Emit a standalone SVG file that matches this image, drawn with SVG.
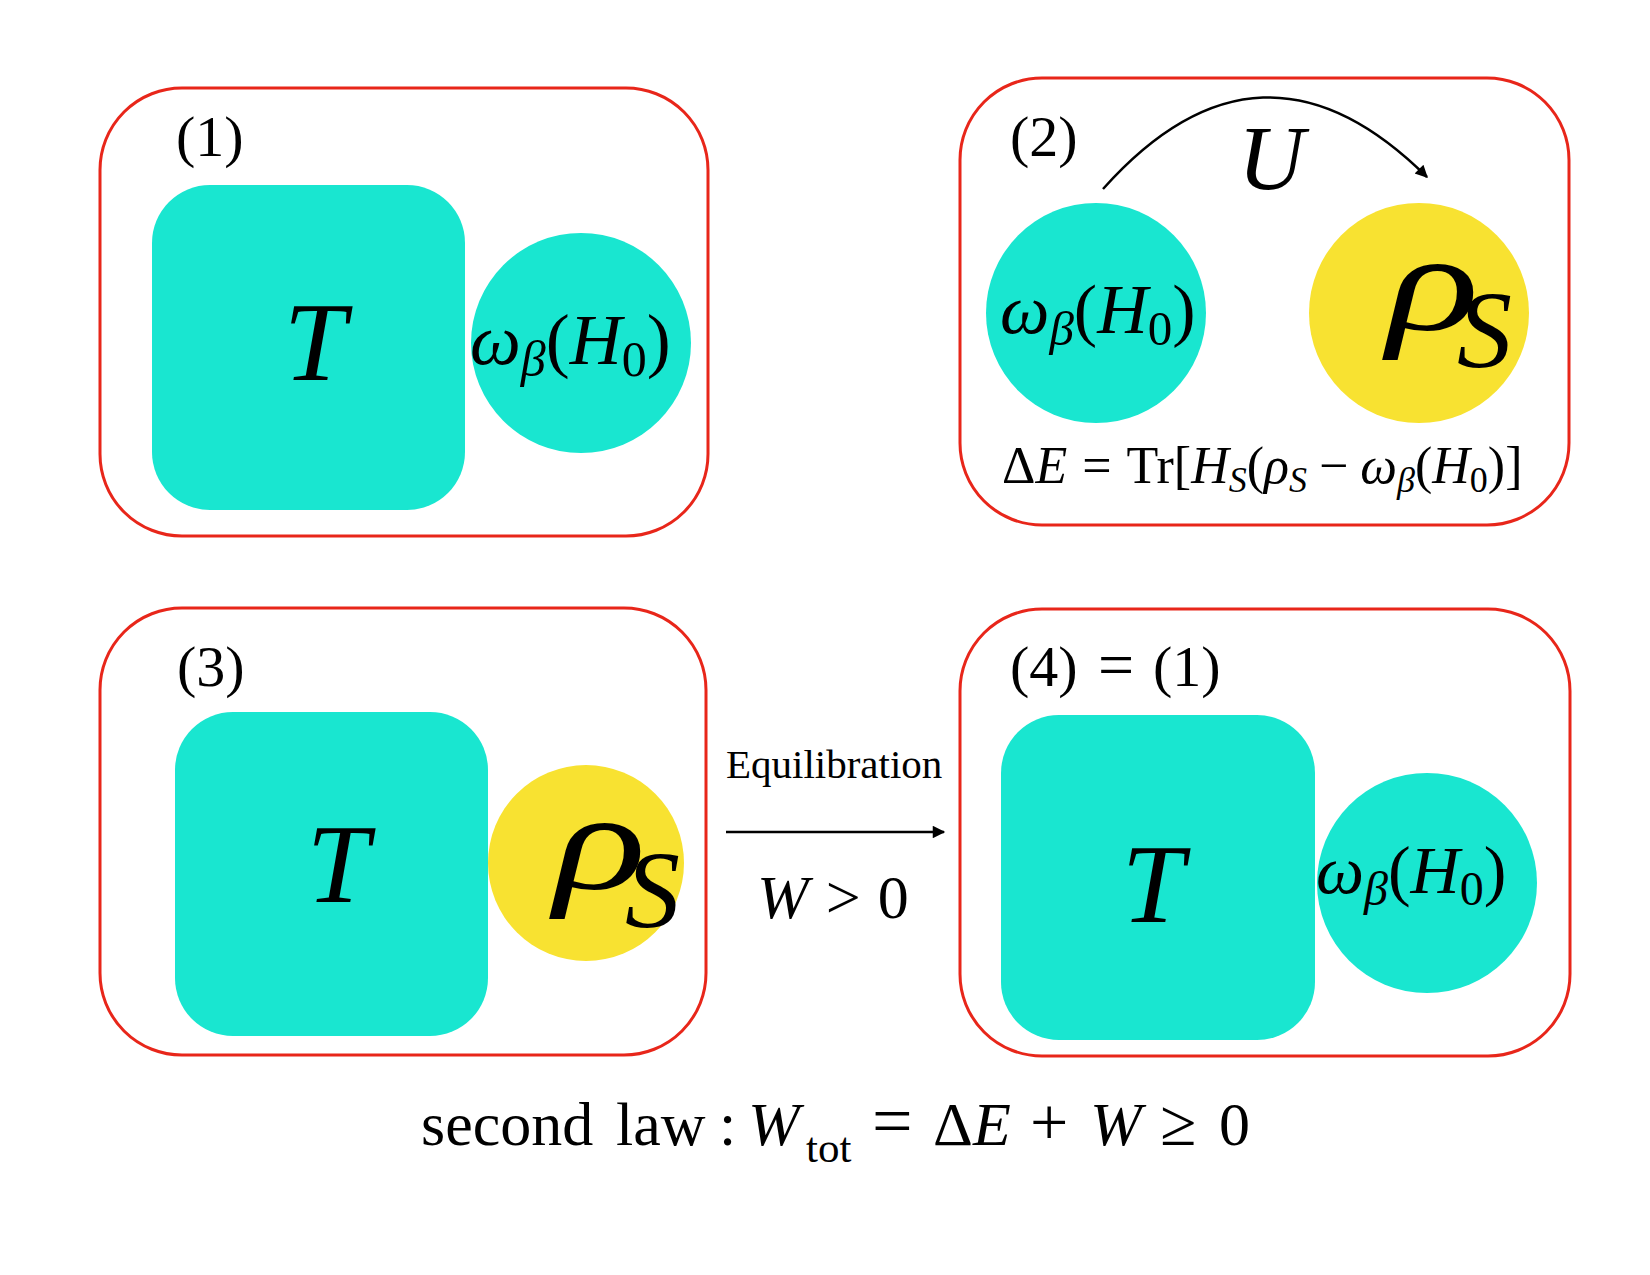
<svg xmlns="http://www.w3.org/2000/svg" width="1650" height="1275" viewBox="0 0 1650 1275">
<defs>
<marker id="ah" viewBox="0 0 10 10" refX="9" refY="5" markerWidth="6" markerHeight="5" orient="auto">
<path d="M0,0 L10,5 L0,10 z" fill="#000"/>
</marker>
</defs>
<style>
.frame{fill:none;stroke:#e8261a;stroke-width:3}
.teal{fill:#19e6d0}
.yel{fill:#f8e231}
text{font-family:"Liberation Serif","Times New Roman",serif;fill:#000}
.it{font-style:italic}
.lbl{font-size:58px}
.big{font-size:112px;font-style:italic}
.conn{fill:none;stroke:#000;stroke-width:2.5}
</style>
<rect width="1650" height="1275" fill="#fff"/>

<g id="panel1">
<rect class="frame" x="100" y="88" width="608" height="448" rx="82"/>
<text class="lbl" x="176" y="156">(1)</text>
<g id="p1-bath">
<rect class="teal" x="152" y="185" width="313" height="325" rx="58"/>
<text class="big" x="315" y="380" text-anchor="middle">T</text>
</g>
<g id="p1-system">
<circle class="teal" cx="581" cy="343" r="110"/>
<text x="470" y="364" font-size="72"><tspan class="it">ω</tspan><tspan class="it" font-size="50" dy="12">β</tspan><tspan dy="-12">(</tspan><tspan class="it">H</tspan><tspan font-size="50" dy="12">0</tspan><tspan dy="-12">)</tspan></text>
</g>
</g>

<g id="panel2">
<rect class="frame" x="960" y="78" width="609" height="447" rx="82"/>
<text class="lbl" x="1010" y="156">(2)</text>
<g id="p2-thermal">
<circle class="teal" cx="1096" cy="313" r="110"/>
<text x="1000" y="333" font-size="70"><tspan class="it">ω</tspan><tspan class="it" font-size="49" dy="12">β</tspan><tspan dy="-12">(</tspan><tspan class="it">H</tspan><tspan font-size="49" dy="12">0</tspan><tspan dy="-12">)</tspan></text>
</g>
<g id="p2-rho">
<circle class="yel" cx="1419" cy="313" r="110"/>
<text class="it" x="1387" y="330" font-size="140"><tspan textLength="92" lengthAdjust="spacingAndGlyphs">ρ</tspan><tspan x="1457" y="367" font-size="110">S</tspan></text>
</g>
<text class="it" x="1238" y="189" font-size="92">U</text>
<text x="1002" y="483" font-size="52"><tspan>Δ</tspan><tspan class="it">E</tspan><tspan dx="15">=</tspan><tspan dx="15">Tr[</tspan><tspan class="it">H</tspan><tspan class="it" font-size="36" dy="9">S</tspan><tspan dy="-9">(</tspan><tspan class="it">ρ</tspan><tspan class="it" font-size="36" dy="9">S</tspan><tspan dy="-9" dx="12">−</tspan><tspan class="it" dx="12">ω</tspan><tspan class="it" font-size="36" dy="9">β</tspan><tspan dy="-9">(</tspan><tspan class="it">H</tspan><tspan font-size="36" dy="9">0</tspan><tspan dy="-9">)]</tspan></text>
</g>

<g id="panel3">
<rect class="frame" x="100" y="608" width="606" height="447" rx="82"/>
<text class="lbl" x="177" y="686">(3)</text>
<g id="p3-bath">
<rect class="teal" x="175" y="712" width="313" height="324" rx="58"/>
<text class="big" x="338" y="902" text-anchor="middle" font-size="106">T</text>
</g>
<g id="p3-rho">
<circle class="yel" cx="586" cy="863" r="98"/>
<text class="it" x="554" y="889" font-size="140"><tspan textLength="92" lengthAdjust="spacingAndGlyphs">ρ</tspan><tspan x="625" y="927" font-size="110">S</tspan></text>
</g>
</g>

<g id="panel4">
<rect class="frame" x="960" y="609" width="610" height="447" rx="82"/>
<text class="lbl" x="1010" y="686">(4)<tspan x="1098" font-size="64">=</tspan><tspan x="1153">(1)</tspan></text>
<g id="p4-bath">
<rect class="teal" x="1001" y="715" width="314" height="325" rx="58"/>
<text class="big" x="1153" y="922" text-anchor="middle">T</text>
</g>
<g id="p4-system">
<circle class="teal" cx="1427" cy="883" r="110"/>
<text x="1316" y="893" font-size="68"><tspan class="it">ω</tspan><tspan class="it" font-size="48" dy="12">β</tspan><tspan dy="-12">(</tspan><tspan class="it">H</tspan><tspan font-size="48" dy="12">0</tspan><tspan dy="-12">)</tspan></text>
</g>
</g>

<g id="connectors">
<path class="conn" d="M1103,189 Q1261,12 1427,177" marker-end="url(#ah)"/>
<line class="conn" x1="726" y1="832" x2="944" y2="832" marker-end="url(#ah)"/>
</g>
<text x="726" y="778" font-size="41">Equilibration</text>
<text x="757" y="918" font-size="62"><tspan class="it">W</tspan><tspan dx="17">&gt;</tspan><tspan dx="17">0</tspan></text>

<text y="1145" font-size="62"><tspan x="421">second</tspan><tspan x="616">law</tspan><tspan x="719">:</tspan><tspan class="it" x="748">W</tspan><tspan font-size="43" x="806" dy="17">tot</tspan><tspan dy="-17" x="872" font-size="72">=</tspan><tspan x="933">Δ</tspan><tspan class="it">E</tspan><tspan x="1030" font-size="68">+</tspan><tspan class="it" x="1090">W</tspan><tspan x="1160" font-size="66">≥</tspan><tspan x="1219">0</tspan></text>
</svg>
